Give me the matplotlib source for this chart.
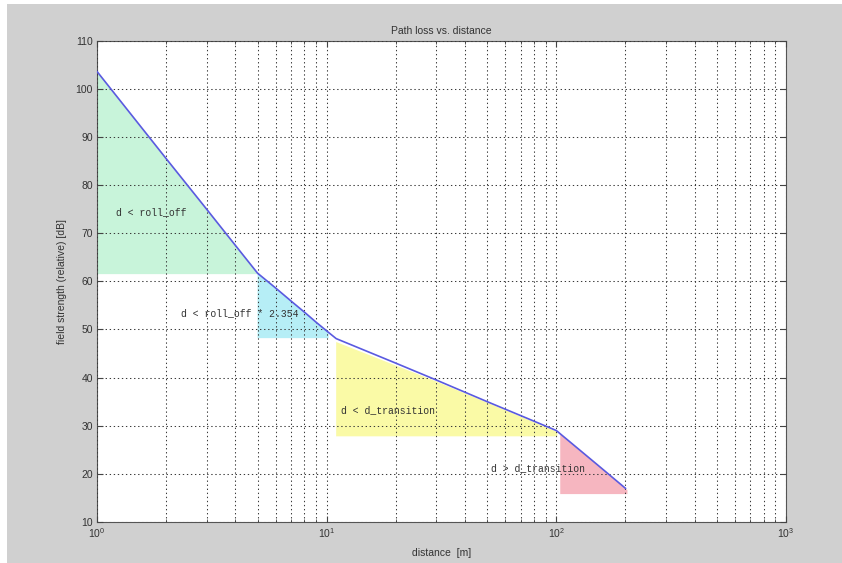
import numpy as np
import matplotlib
matplotlib.use("Agg")
import matplotlib.pyplot as plt
from matplotlib.patches import Rectangle
from matplotlib.ticker import LogLocator, NullFormatter, FixedLocator

# ---- data ----
dist = [1, 2, 3, 4, 5, 6, 7, 8, 9, 10, 11, 20, 30, 50, 70, 100, 150, 200]
field = [103.6, 85.5, 75.0, 67.5, 61.7, 58.6, 55.9, 53.6, 51.5, 49.7, 48.1,
         43.0, 39.5, 35.0, 32.1, 29.0, 22.0, 17.0]

green_x = [1, 2, 3, 4, 5, 5, 1]
green_y = [103.6, 85.5, 75.0, 67.5, 61.7, 61.5, 61.5]
cyan_x = [5, 6, 7, 8, 9, 10.2, 10.2, 5]
cyan_y = [61.7, 58.6, 55.9, 53.6, 51.5, 49.4, 48.2, 48.2]
yellow_x = [11, 20, 30, 50, 70, 101, 101, 11]
yellow_y = [47.4, 42.5, 39.2, 34.8, 31.9, 28.7, 27.8, 27.8]
pink_x = [104, 150, 204, 204, 104]
pink_y = [28.3, 22.0, 16.6, 15.8, 15.8]

labels = ["d < roll_off", "d < roll_off * 2.354", "d < d_transition", "d > d_transition"]
label_x = [1.21, 2.32, 11.6, 52.0]
label_y = [74.3, 53.4, 33.2, 21.2]

yticks = [10, 20, 30, 40, 50, 60, 70, 80, 90, 100, 110]

# ---- figure ----
fig = plt.figure(figsize=(8.42, 5.63), dpi=100, facecolor="white")
fig.patches.append(Rectangle((0.008, 0), 0.992, 0.993, transform=fig.transFigure,
                             facecolor="#d0d0d0", edgecolor="none", zorder=-10))
ax = fig.add_axes([0.1152, 0.0728, 0.8183, 0.855])
ax.set_facecolor("white")

ax.fill(green_x, green_y, color="#c8f4da", lw=0, zorder=1)
ax.fill(cyan_x, cyan_y, color="#b6eef6", lw=0, zorder=1)
ax.fill(yellow_x, yellow_y, color="#fafaa6", lw=0, zorder=1)
ax.fill(pink_x, pink_y, color="#f6b6c0", lw=0, zorder=1)

ax.plot(dist, field, color="#5a5ae0", lw=1.2, zorder=3)

for t, x, y in zip(labels, label_x, label_y):
    ax.text(x, y, t, family="Liberation Mono", fontsize=7, color="#333333",
            va="center", ha="left", zorder=4)

ax.set_xscale("log")
ax.set_xlim(1, 1000)
ax.set_ylim(10, 110)
ax.yaxis.set_major_locator(FixedLocator(yticks))
ax.xaxis.set_major_locator(LogLocator(base=10, numticks=10))
ax.xaxis.set_minor_locator(LogLocator(base=10, subs=np.arange(2, 10), numticks=20))
ax.xaxis.set_minor_formatter(NullFormatter())

gridkw = dict(color="#3a3a3a", linestyle=(0, (1.3, 2.6)), linewidth=0.75)
ax.grid(True, which="major", axis="both", **gridkw)
ax.grid(True, which="minor", axis="x", **gridkw)
ax.set_axisbelow(False)
for gl in ax.get_xgridlines() + ax.get_ygridlines():
    gl.set_zorder(2)

ax.tick_params(which="both", direction="in", top=True, right=True,
               labelsize=7.5, labelcolor="#333333", color="#444444")
ax.tick_params(which="major", length=4, pad=3)
ax.tick_params(which="minor", length=2.5)
for lab in ax.get_xticklabels() + ax.get_yticklabels():
    lab.set_family("Liberation Sans")
for s in ax.spines.values():
    s.set_color("#555555")
    s.set_linewidth(0.8)

ax.set_title("Path loss vs. distance", fontsize=7.5, color="#333333",
             family="Liberation Sans", pad=5)
ax.set_xlabel("distance  [m]", fontsize=7.5, color="#333333", family="Liberation Sans",
              labelpad=6)
ax.set_ylabel("field strength (relative) [dB]", fontsize=7.5, color="#333333",
              family="Liberation Sans", labelpad=6)

fig.savefig("out.png", dpi=100, facecolor=fig.get_facecolor())
